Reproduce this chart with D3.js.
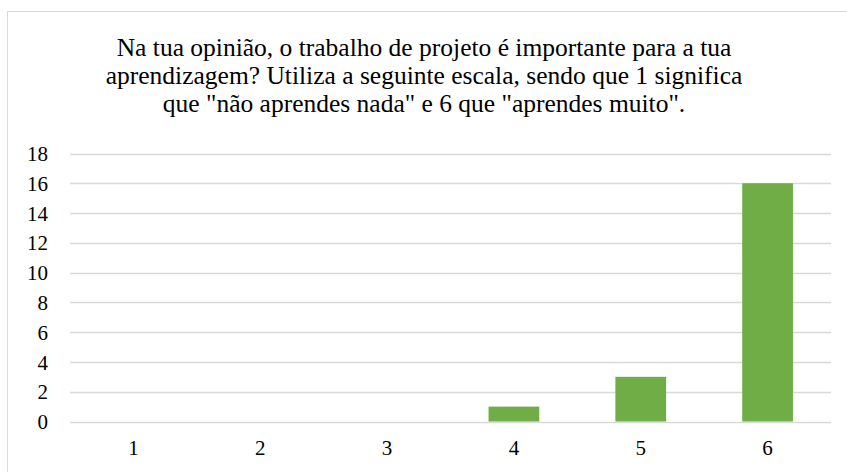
<!DOCTYPE html>
<html>
<head>
<meta charset="utf-8">
<script src="https://cdn.jsdelivr.net/npm/d3@7"></script>
<style>
  body { margin: 0; background: #fff; }
  svg { display: block; }
</style>
</head>
<body>
<div id="chart"></div>
<script>
const categories = ["1", "2", "3", "4", "5", "6"];
const counts = [0, 0, 0, 1, 3, 16];
const yTicks = [0, 2, 4, 6, 8, 10, 12, 14, 16, 18];
const titleLines = [
    "Na tua opinião, o trabalho de projeto é importante para a tua",
    "aprendizagem? Utiliza a seguinte escala, sendo que 1 significa",
    "que \"não aprendes nada\" e 6 que \"aprendes muito\"."
];

const width = 847, height = 472;
const margin = { top: 153.5, right: 16, bottom: 50.5, left: 70 };
const serif = "'Times New Roman', 'Liberation Serif', Tinos, 'DejaVu Serif', serif";

const svg = d3.select("#chart")
    .append("svg")
    .attr("width", width)
    .attr("height", height)
    .style("font-family", serif);

// chart frame
svg.append("rect")
    .attr("x", 7.5)
    .attr("y", 11.5)
    .attr("width", width)
    .attr("height", height)
    .attr("fill", "#fff")
    .attr("stroke", "#d9d9d9")
    .attr("stroke-width", 1);

// title
svg.append("text")
    .attr("text-anchor", "middle")
    .style("font-family", serif)
    .attr("font-size", 25.5)
    .attr("fill", "#000")
    .selectAll("tspan")
    .data(titleLines)
    .enter()
    .append("tspan")
    .attr("x", 424)
    .attr("y", (d, i) => 56 + i * 28)
    .text(d => d);

const x = d3.scaleBand()
    .domain(categories)
    .range([margin.left, width - margin.right])
    .paddingInner(0.6)
    .paddingOuter(0.3);

const y = d3.scaleLinear()
    .domain([0, 18])
    .range([height - margin.bottom, margin.top]);

// gridlines
svg.append("g")
    .selectAll("line")
    .data(yTicks)
    .enter()
    .append("line")
    .attr("x1", margin.left)
    .attr("x2", width - margin.right)
    .attr("y1", d => Math.round(y(d)) + 0.5)
    .attr("y2", d => Math.round(y(d)) + 0.5)
    .attr("stroke", "#d9d9d9")
    .attr("stroke-width", 1.5);

// bars
svg.append("g")
    .selectAll("rect")
    .data(counts)
    .enter()
    .append("rect")
    .attr("x", (d, i) => x(categories[i]))
    .attr("width", x.bandwidth())
    .attr("y", d => y(d))
    .attr("height", d => y(0) - y(d))
    .attr("fill", "#70ad47");

// y axis labels
const yAxis = svg.append("g")
    .attr("transform", "translate(" + (margin.left - 22) + ",0)")
    .call(d3.axisLeft(y).tickValues(yTicks).tickSize(0).tickPadding(0));
yAxis.attr("font-family", null);
yAxis.select(".domain").remove();
yAxis.selectAll("text")
    .style("font-family", serif)
    .attr("font-size", 21)
    .attr("fill", "#000")
    .attr("dy", "0.34em");

// x axis labels
const xAxis = svg.append("g")
    .attr("transform", "translate(0," + (height - margin.bottom) + ")")
    .call(d3.axisBottom(x).tickSize(0).tickPadding(19));
xAxis.attr("font-family", null);
xAxis.select(".domain").remove();
xAxis.selectAll("text")
    .style("font-family", serif)
    .attr("font-size", 21)
    .attr("fill", "#000");
</script>
</body>
</html>
